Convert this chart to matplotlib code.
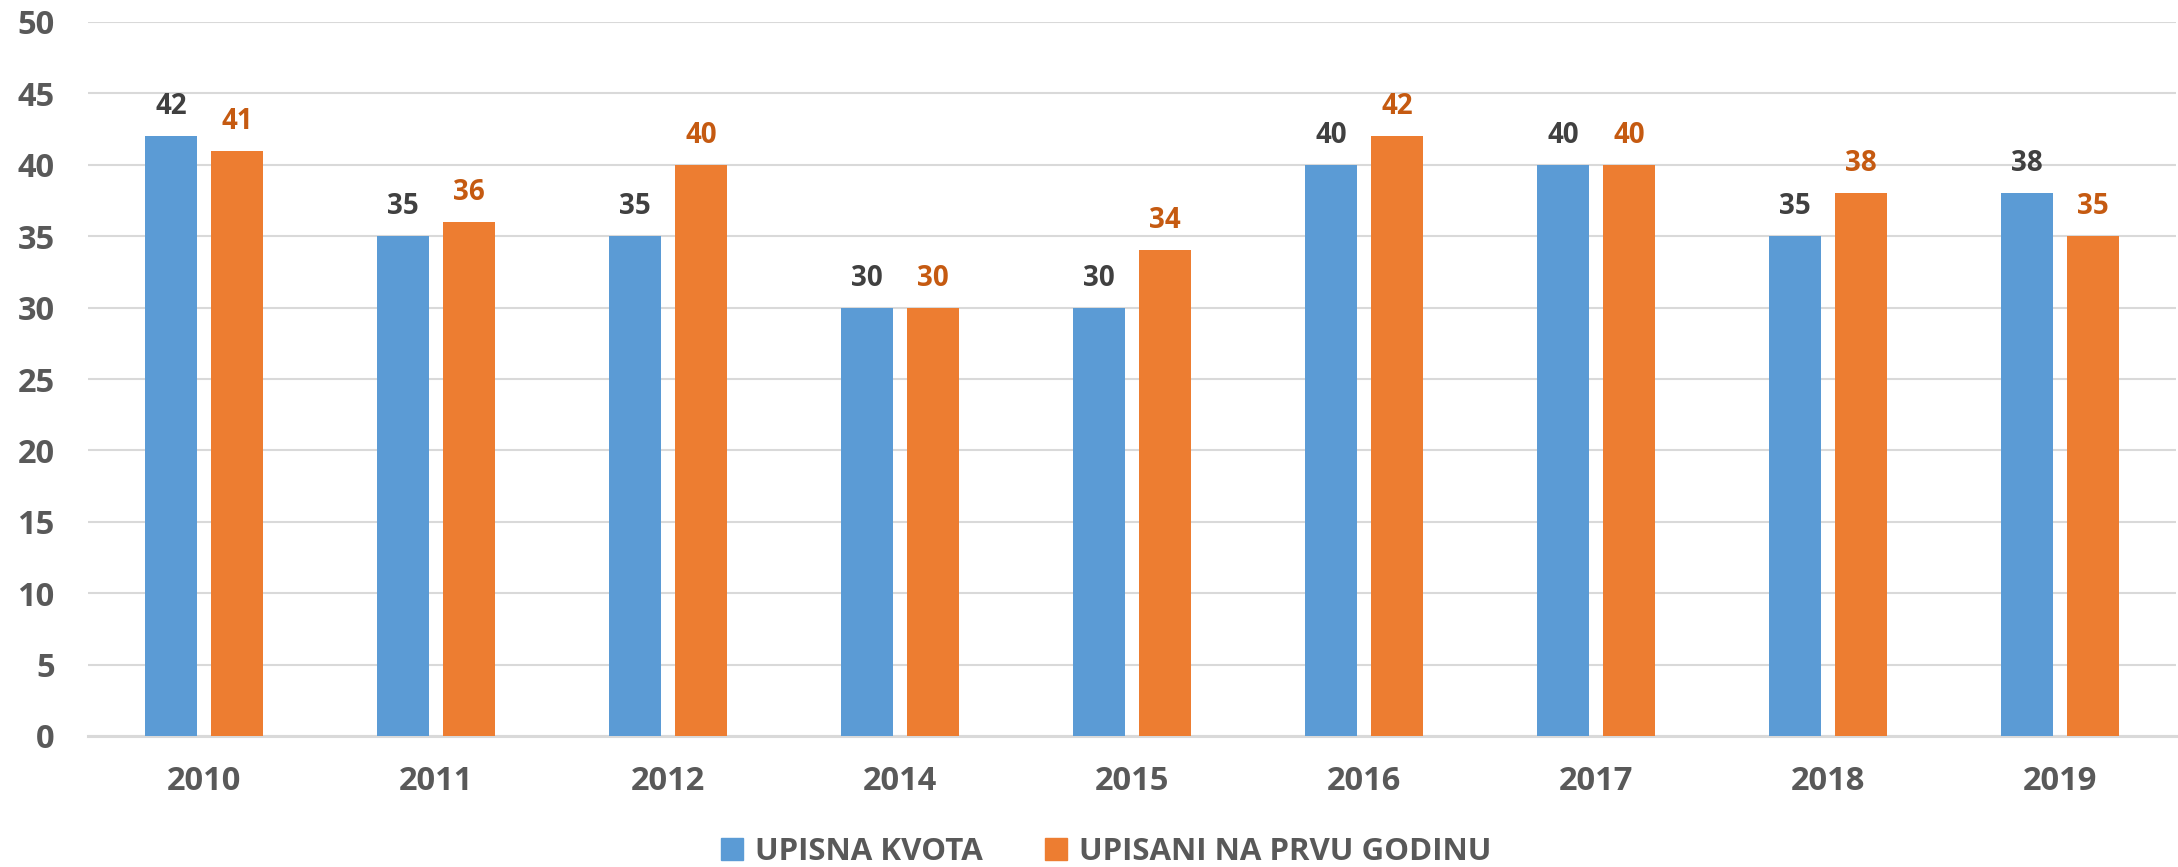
import matplotlib
matplotlib.use("Agg")
import matplotlib.pyplot as plt
from matplotlib.patches import Patch
import numpy as np

years = ["2010", "2011", "2012", "2014", "2015", "2016", "2017", "2018", "2019"]
upisna_kvota = [42, 35, 35, 30, 30, 40, 40, 35, 38]
upisani = [41, 36, 40, 30, 34, 42, 40, 38, 35]
series_names = ["UPISNA KVOTA", "UPISANI NA PRVU GODINU"]

BLUE = "#5B9BD5"
ORANGE = "#ED7D31"
GREY = "#595959"

plt.rcParams['font.family'] = ['Open Sans', 'DejaVu Sans']

fig = plt.figure(figsize=(21.78, 8.67), dpi=100)
ax = fig.add_axes([88/2178, 1-736/867, (2176-88)/2178, (736-22)/867])

x = np.arange(len(years))
w = 0.224
off = 0.142
b1 = ax.bar(x - off, upisna_kvota, w, color=BLUE, zorder=3)
b2 = ax.bar(x + off, upisani, w, color=ORANGE, zorder=3)

for rect, v in zip(b1, upisna_kvota):
    ax.annotate(str(v), (rect.get_x() + rect.get_width()/2, v), xytext=(0, 15),
                textcoords='offset pixels', ha='center', va='bottom',
                fontsize=20, fontweight='bold', color="#404040")
for rect, v in zip(b2, upisani):
    ax.annotate(str(v), (rect.get_x() + rect.get_width()/2, v), xytext=(0, 15),
                textcoords='offset pixels', ha='center', va='bottom',
                fontsize=20, fontweight='bold', color="#C55A11")

ax.set_xlim(-0.5, len(years) - 0.5)
ax.set_ylim(0, 50)
ax.set_yticks(range(0, 51, 5))
ax.set_xticks(x)
ax.set_xticklabels(years)
ax.yaxis.grid(True, color="#D9D9D9", linewidth=1.5, zorder=0)
ax.set_axisbelow(True)
for s in ["top", "right", "left"]:
    ax.spines[s].set_visible(False)
ax.spines["bottom"].set_color("#D9D9D9")
ax.spines["bottom"].set_linewidth(2.2)
ax.tick_params(axis='both', length=0, labelsize=23.5, colors=GREY)
ax.tick_params(axis='y', pad=24)
ax.tick_params(axis='x', pad=21)
for lab in ax.get_xticklabels() + ax.get_yticklabels():
    lab.set_fontweight('bold')

handles = [Patch(color=BLUE), Patch(color=ORANGE)]
leg = fig.legend(handles, series_names, loc='center', bbox_to_anchor=(1106/2178, 1-852/867),
                 ncol=2, frameon=False, handlelength=0.7, handleheight=0.68,
                 handletextpad=0.38, columnspacing=2.0, borderpad=0, borderaxespad=0,
                 prop={'weight': 'bold', 'size': 22.5})
for t in leg.get_texts():
    t.set_color(GREY)

fig.savefig("out.png", dpi=100)
